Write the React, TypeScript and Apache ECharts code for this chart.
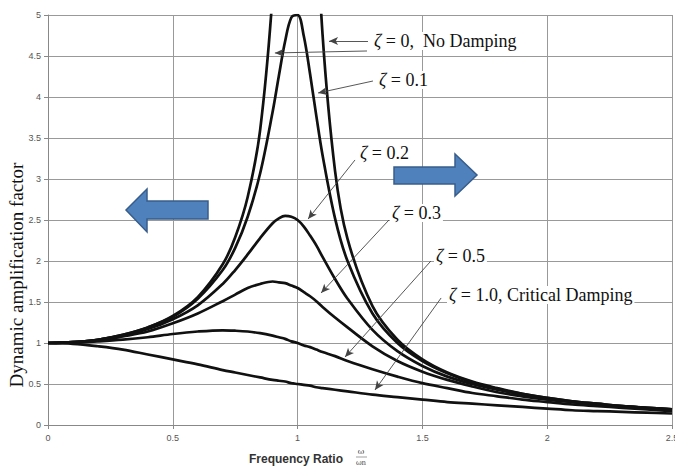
import React, { useEffect, useRef } from 'react';
import * as echarts from 'echarts';

// Frequency ratio (omega / omega_n) sample positions read along the x axis
const ratio = [0, 0.1, 0.2, 0.3, 0.4, 0.5, 0.6, 0.7, 0.75, 0.8, 0.85, 0.9, 0.925, 0.95, 0.975, 1.0, 1.025, 1.05, 1.075, 1.1, 1.15, 1.2, 1.3, 1.4, 1.5, 1.6, 1.7, 1.8, 1.9, 2.0, 2.1, 2.2, 2.3, 2.4, 2.5];

// Dynamic amplification factor
const dafZeta0 = [1, 1.01, 1.04, 1.1, 1.19, 1.33, 1.56, 1.96, 2.29, 2.78, 3.6, 5.26, 6.93, 10.26, null, null, null, 9.76, 6.43, 4.76, 3.1, 2.27, 1.45, 1.04, 0.8, 0.64, 0.53, 0.45, 0.38, 0.33, 0.29, 0.26, 0.23, 0.21, 0.19];
const dafZeta01 = [1, 1.01, 1.04, 1.1, 1.19, 1.32, 1.54, 1.89, 2.16, 2.54, 3.07, 3.82, 4.26, 4.68, 4.97, 5.0, 4.74, 4.28, 3.77, 3.29, 2.52, 2.0, 1.36, 1.0, 0.78, 0.63, 0.52, 0.44, 0.38, 0.33, 0.29, 0.26, 0.23, 0.21, 0.19];
const dafZeta02 = [1, 1.01, 1.04, 1.09, 1.17, 1.29, 1.46, 1.72, 1.89, 2.08, 2.28, 2.46, 2.52, 2.55, 2.54, 2.5, 2.42, 2.31, 2.19, 2.05, 1.78, 1.54, 1.16, 0.9, 0.72, 0.59, 0.5, 0.43, 0.37, 0.32, 0.28, 0.25, 0.23, 0.21, 0.19];
const dafZeta03 = [1, 1.01, 1.03, 1.08, 1.14, 1.24, 1.36, 1.51, 1.59, 1.67, 1.72, 1.75, 1.74, 1.73, 1.7, 1.67, 1.62, 1.57, 1.51, 1.44, 1.31, 1.19, 0.96, 0.78, 0.65, 0.55, 0.47, 0.4, 0.35, 0.31, 0.28, 0.25, 0.22, 0.2, 0.18];
const dafZeta05 = [1, 1.005, 1.02, 1.04, 1.07, 1.11, 1.14, 1.155, 1.15, 1.14, 1.12, 1.09, 1.07, 1.05, 1.02, 1.0, 0.97, 0.95, 0.92, 0.89, 0.84, 0.78, 0.68, 0.59, 0.51, 0.45, 0.39, 0.35, 0.31, 0.28, 0.25, 0.23, 0.21, 0.19, 0.17];
const dafZeta10 = [1, 0.99, 0.96, 0.92, 0.86, 0.8, 0.74, 0.67, 0.64, 0.61, 0.58, 0.55, 0.54, 0.53, 0.51, 0.5, 0.49, 0.48, 0.46, 0.45, 0.43, 0.41, 0.37, 0.34, 0.31, 0.28, 0.26, 0.24, 0.22, 0.2, 0.18, 0.17, 0.16, 0.15, 0.14];

const curveNames = ['ζ = 0', 'ζ = 0.1', 'ζ = 0.2', 'ζ = 0.3', 'ζ = 0.5', 'ζ = 1.0'];
const curveValues = [dafZeta0, dafZeta01, dafZeta02, dafZeta03, dafZeta05, dafZeta10];

// Annotation arrows: [label-end, tip] in data coordinates
const arrowFrom = [[1.282, 4.683], [1.278, 4.561], [1.302, 4.195], [1.23, 3.232], [1.366, 2.5], [1.534, 2.0], [1.575, 1.549]];
const arrowTo = [[1.126, 4.683], [0.909, 4.537], [1.082, 4.049], [1.042, 2.512], [1.094, 1.61], [1.19, 0.829], [1.31, 0.427]];

// Annotation label texts
const labelTexts = ['{z|ζ} = 0,  No Damping', '{z|ζ} = 0.1', '{z|ζ} = 0.2', '{z|ζ} = 0.3', '{z|ζ} = 0.5', '{z|ζ} = 1.0, Critical Damping'];
const labelPos = [[372, 41], [377, 80], [358, 153], [390, 213], [434, 256], [447, 295]];

export default function App() {
  const ref = useRef<HTMLDivElement>(null);
  useEffect(() => {
    const chart = echarts.init(ref.current!, null, { renderer: 'svg' });
    const serif = '"Liberation Serif", "Times New Roman", serif';
    const sans = '"Liberation Sans", Arial, sans-serif';

    const series: any[] = curveValues.map((vals, k) => ({
      name: curveNames[k],
      type: 'line',
      data: ratio.map((r, i) => [r, vals[i]]),
      showSymbol: false,
      smooth: 0.35,
      clip: true,
      z: 3,
      lineStyle: { color: '#111', width: 2.7 },
      connectNulls: false,
    }));
    series[5].markLine = {
      silent: true,
      symbol: ['none', 'arrow'],
      symbolSize: [6, 9],
      animation: false,
      label: { show: false },
      lineStyle: { color: '#444', width: 0.9, type: 'solid' },
      data: arrowFrom.map((f, i) => [{ coord: f }, { coord: arrowTo[i] }]),
    };

    const labels = labelTexts.map((t, i) => ({
      type: 'text',
      x: labelPos[i][0],
      y: labelPos[i][1],
      z: 1,
      style: {
        text: t,
        fontFamily: serif,
        fontSize: 18,
        fill: '#111',
        align: 'left',
        verticalAlign: 'middle',
        backgroundColor: '#fff',
        padding: [0, 2],
        rich: { z: { fontFamily: serif, fontSize: 18, fontStyle: 'italic', fill: '#111' } },
      },
    }));

    chart.setOption({
      animation: false,
      backgroundColor: '#fff',
      grid: { left: 48, right: 3, top: 15, bottom: 44, containLabel: false, outerBoundsMode: 'none' },
      xAxis: {
        type: 'value',
        min: 0,
        max: 2.5,
        interval: 0.5,
        axisLine: { show: true, lineStyle: { color: '#888', width: 1 } },
        axisTick: { show: true, length: 4, lineStyle: { color: '#888' } },
        axisLabel: { color: '#555', fontSize: 9, fontFamily: sans, margin: 8, hideOverlap: false },
        splitLine: { show: true, lineStyle: { color: '#999', width: 1 } },
      },
      yAxis: {
        type: 'value',
        min: 0,
        max: 5,
        interval: 0.5,
        axisLine: { show: true, lineStyle: { color: '#888', width: 1 } },
        axisTick: { show: true, length: 4, lineStyle: { color: '#888' } },
        axisLabel: { color: '#555', fontSize: 9, fontFamily: sans, margin: 7 },
        splitLine: { show: true, lineStyle: { color: '#999', width: 1 } },
      },
      series,
      graphic: [
        {
          type: 'text',
          x: 16,
          y: 275,
          rotation: Math.PI / 2,
          style: {
            text: 'Dynamic amplification factor',
            fontFamily: serif,
            fontSize: 19,
            fill: '#111',
            align: 'center',
            verticalAlign: 'middle',
          },
        },
        {
          type: 'text',
          x: 296,
          y: 459,
          style: {
            text: 'Frequency Ratio',
            fontFamily: sans,
            fontSize: 12,
            fontWeight: 'bold',
            fill: '#333',
            align: 'center',
            verticalAlign: 'middle',
          },
        },
        {
          type: 'text',
          x: 361,
          y: 451,
          style: { text: 'ω', fontFamily: '"DejaVu Serif", serif', fontSize: 8, fill: '#444', align: 'center', verticalAlign: 'middle' },
        },
        {
          type: 'line',
          shape: { x1: 356, y1: 457, x2: 367, y2: 457 },
          style: { stroke: '#777', lineWidth: 0.7 },
        },
        {
          type: 'text',
          x: 361,
          y: 463,
          style: { text: 'ωn', fontFamily: '"DejaVu Serif", serif', fontSize: 7, fill: '#444', align: 'center', verticalAlign: 'middle' },
        },
        ...labels,
        {
          type: 'polygon',
          z: 10,
          shape: { points: [[126, 210], [147, 189], [147, 201], [208, 201], [208, 219], [147, 219], [147, 232]] },
          style: { fill: '#4f81bd', stroke: '#385d8a', lineWidth: 1.5 },
        },
        {
          type: 'polygon',
          z: 10,
          shape: { points: [[394, 167], [455, 167], [455, 154], [477, 175], [455, 196], [455, 184], [394, 184]] },
          style: { fill: '#4f81bd', stroke: '#385d8a', lineWidth: 1.5 },
        },
      ],
    });
    return () => chart.dispose();
  }, []);
  return <div ref={ref} style={{ position: 'absolute', left: 0, top: 0, width: 675, height: 469 }} />;
}
